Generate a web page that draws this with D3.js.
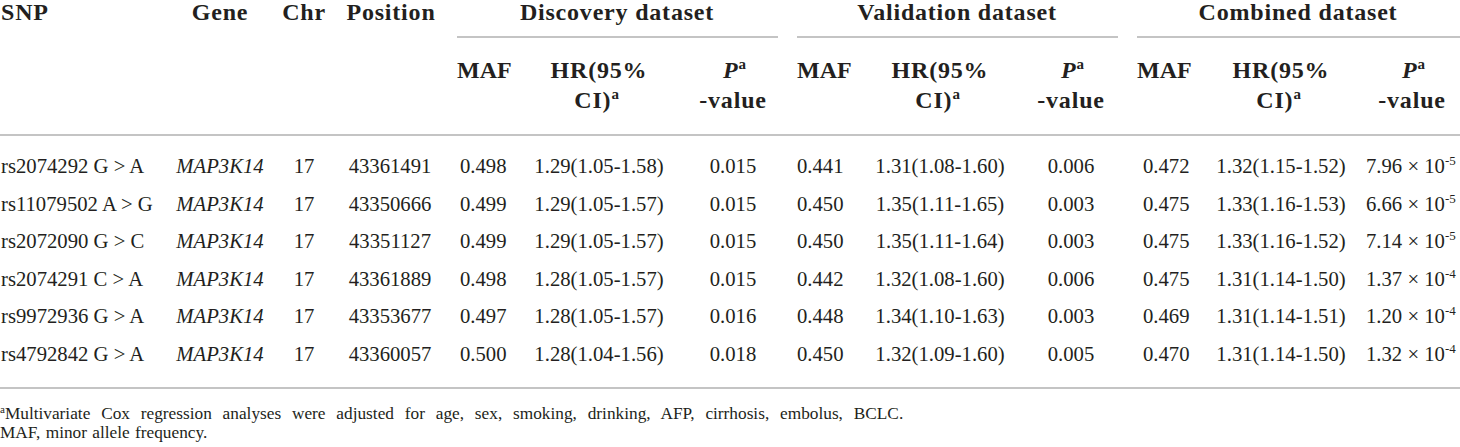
<!DOCTYPE html>
<html>
<head>
<meta charset="utf-8">
<title>MAP3K14 SNPs</title>
<script src="https://d3js.org/d3.v7.min.js"></script>
<style>
  body { margin: 0; background: #fff; }
  svg { display: block; }
  text { font-family: "Liberation Serif", "DejaVu Serif", serif; fill: #231f20; }
  .hd { font-weight: bold; font-size: 24px; letter-spacing: 0.8px; }
  .cell { font-size: 20.7px; }
  .note { font-size: 17.3px; }
  .rule { stroke: #c4c4c4; stroke-width: 2; }
</style>
</head>
<body>
<div id="chart"></div>
<script>

var snps = ['rs2074292 G > A', 'rs11079502 A > G', 'rs2072090 G > C',
            'rs2074291 C > A', 'rs9972936 G > A', 'rs4792842 G > A'];
var genes = ['MAP3K14', 'MAP3K14', 'MAP3K14', 'MAP3K14', 'MAP3K14', 'MAP3K14'];
var chrs = ['17', '17', '17', '17', '17', '17'];
var positions = ['43361491', '43350666', '43351127', '43361889', '43353677', '43360057'];

var discMAF = ['0.498', '0.499', '0.499', '0.498', '0.497', '0.500'];
var discHR = ['1.29(1.05-1.58)', '1.29(1.05-1.57)', '1.29(1.05-1.57)', '1.28(1.05-1.57)', '1.28(1.05-1.57)', '1.28(1.04-1.56)'];
var discP = ['0.015', '0.015', '0.015', '0.015', '0.016', '0.018'];

var valMAF = ['0.441', '0.450', '0.450', '0.442', '0.448', '0.450'];
var valHR = ['1.31(1.08-1.60)', '1.35(1.11-1.65)', '1.35(1.11-1.64)', '1.32(1.08-1.60)', '1.34(1.10-1.63)', '1.32(1.09-1.60)'];
var valP = ['0.006', '0.003', '0.003', '0.006', '0.003', '0.005'];

var combMAF = ['0.472', '0.475', '0.475', '0.475', '0.469', '0.470'];
var combHR = ['1.32(1.15-1.52)', '1.33(1.16-1.53)', '1.33(1.16-1.52)', '1.31(1.14-1.50)', '1.31(1.14-1.51)', '1.31(1.14-1.50)'];
var combPmant = ['7.96', '6.66', '7.14', '1.37', '1.20', '1.32'];
var combPexp = ['-5', '-5', '-5', '-4', '-4', '-4'];

var groups = ['Discovery dataset', 'Validation dataset', 'Combined dataset'];
var notes = ['Multivariate Cox regression analyses were adjusted for age, sex, smoking, drinking, AFP, cirrhosis, embolus, BCLC.',
             'MAF, minor allele frequency.'];

var W = 1460, H = 447;

var svg = d3.select('#chart').append('svg')
    .attr('width', W)
    .attr('height', H);

// row baselines
var y = d3.scalePoint()
    .domain(snps)
    .range([173, 360.5]);

// column x anchors per dataset block
var blockX = d3.scaleOrdinal()
    .domain(groups)
    .range([{maf: 460, hr: 599, p: 733, lo: 457, hi: 778, mid: 617},
            {maf: 797, hr: 940, p: 1071, lo: 797, hi: 1118, mid: 957},
            {maf: 1143, hr: 1281, p: 1412, lo: 1137, hi: 1460, mid: 1298}]);

// ---- rules
svg.selectAll('line.grp')
    .data(groups).enter()
  .append('line').attr('class', 'rule grp')
    .attr('x1', function(d){ return blockX(d).lo; })
    .attr('x2', function(d){ return blockX(d).hi; })
    .attr('y1', 37).attr('y2', 37);

svg.selectAll('line.full')
    .data([135, 388]).enter()
  .append('line').attr('class', 'rule full')
    .attr('x1', 0).attr('x2', W)
    .attr('y1', function(d){ return d; })
    .attr('y2', function(d){ return d; });

// ---- header row 1
var hd = svg.append('g');
hd.append('text').attr('class', 'hd').attr('x', 1).attr('y', 20).text('SNP');
hd.append('text').attr('class', 'hd').attr('x', 220).attr('y', 20).attr('text-anchor', 'middle').text('Gene');
hd.append('text').attr('class', 'hd').attr('x', 304).attr('y', 20).attr('text-anchor', 'middle').text('Chr');
hd.append('text').attr('class', 'hd').attr('x', 391).attr('y', 20).attr('text-anchor', 'middle').text('Position');

hd.selectAll('text.grp')
    .data(groups).enter()
  .append('text').attr('class', 'hd grp')
    .attr('x', function(d){ return blockX(d).mid; })
    .attr('y', 20)
    .attr('text-anchor', 'middle')
    .text(function(d){ return d; });

// ---- header row 2 (sub columns)
groups.forEach(function(g){
  var b = blockX(g);
  hd.append('text').attr('class', 'hd')
    .attr('x', b.lo).attr('y', 78).style('letter-spacing', '0px').text('MAF');

  var t1 = hd.append('text').attr('class', 'hd')
    .attr('x', b.hr).attr('text-anchor', 'middle');
  t1.append('tspan').attr('x', b.hr).attr('y', 78).text('HR(95%');
  var l2 = t1.append('tspan').attr('x', b.hr - 2).attr('y', 108);
  l2.text('CI)');
  t1.append('tspan').attr('dy', -9).attr('font-size', 15).text('a');

  var t2 = hd.append('text').attr('class', 'hd').attr('text-anchor', 'middle');
  t2.append('tspan').attr('x', b.p + 2).attr('y', 78).attr('font-style', 'italic').text('P');
  t2.append('tspan').attr('dy', -9).attr('font-size', 15).text('a');
  hd.append('text').attr('class', 'hd').attr('x', b.p).attr('y', 108)
    .attr('text-anchor', 'middle').text('-value');
});

// ---- body
var body = svg.append('g');

function column(vals, x, anchor, cls){
  body.selectAll('text.' + cls)
      .data(vals).enter()
    .append('text').attr('class', 'cell ' + cls)
      .attr('x', x)
      .attr('y', function(d, i){ return y(snps[i]); })
      .attr('text-anchor', anchor)
      .text(function(d){ return d; });
}

column(snps, 1, 'start', 'snp');
column(genes, 220, 'middle', 'gene');
body.selectAll('text.gene').attr('font-style', 'italic');
column(chrs, 304, 'middle', 'chr');
column(positions, 390, 'middle', 'pos');

var b0 = blockX(groups[0]), b1 = blockX(groups[1]), b2 = blockX(groups[2]);
column(discMAF, b0.maf, 'start', 'dmaf');
column(discHR, b0.hr, 'middle', 'dhr');
column(discP, b0.p, 'middle', 'dp');
column(valMAF, b1.maf, 'start', 'vmaf');
column(valHR, b1.hr, 'middle', 'vhr');
column(valP, b1.p, 'middle', 'vp');
column(combMAF, b2.maf, 'start', 'cmaf');
column(combHR, b2.hr, 'middle', 'chr2');

var cp = body.selectAll('text.cp')
    .data(combPmant).enter()
  .append('text').attr('class', 'cell cp')
    .attr('x', 1366)
    .attr('y', function(d, i){ return y(snps[i]); });
cp.append('tspan').text(function(d){ return d + ' \u00d7 10'; });
cp.append('tspan').attr('dy', -8).attr('font-size', 13)
    .text(function(d, i){ return combPexp[i]; });

// ---- footnotes
var fn = svg.append('g');
var n1 = fn.append('text').attr('class', 'note').attr('x', 0).attr('y', 419)
    .style('word-spacing', '6.5px');
n1.append('tspan').attr('dy', -6).attr('font-size', 11).text('a');
n1.append('tspan').attr('dy', 6).text(notes[0]);
fn.append('text').attr('class', 'note').attr('x', 0).attr('y', 438)
    .style('word-spacing', '1px').text(notes[1]);

</script>
</body>
</html>
